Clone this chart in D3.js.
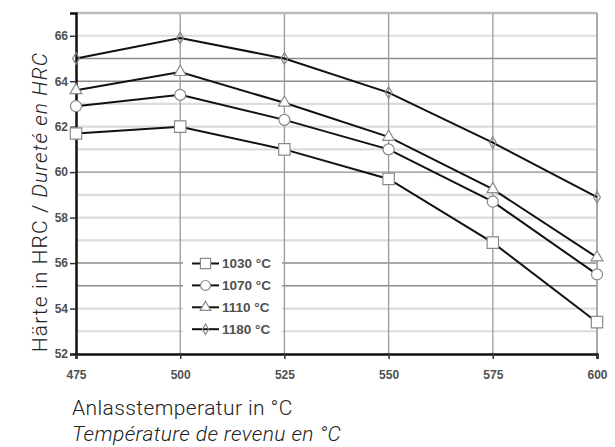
<!DOCTYPE html>
<html>
<head>
<meta charset="utf-8">
<script src="https://cdn.jsdelivr.net/npm/d3@7"></script>
<style>
  body { margin: 0; background: #fff; }
  .tick text { font-family: "Liberation Sans", Arial, sans-serif; font-weight: bold; font-size: 12px; fill: #505050; }
  .title { font-family: Roboto, "Open Sans", sans-serif; font-weight: 300; font-size: 21px; fill: #222; }
  .legend text { font-family: "Liberation Sans", Arial, sans-serif; font-weight: bold; font-size: 13.5px; fill: #505050; }
</style>
</head>
<body>
<div id="chart"></div>
<script>
// Tempering temperature (x) and hardness per hardening temperature
const temps = [475, 500, 525, 550, 575, 600]
const h1030 = [61.7, 62.0, 61.0, 59.7, 56.9, 53.4]
const h1070 = [62.9, 63.4, 62.3, 61.0, 58.7, 55.5]
const h1110 = [63.6, 64.4, 63.05, 61.55, 59.25, 56.25]
const h1180 = [65.0, 65.9, 65.0, 63.5, 61.3, 58.9]
const seriesNames = ['1030 °C', '1070 °C', '1110 °C', '1180 °C']
const yTicks = [52, 54, 56, 58, 60, 62, 64, 66]
const yGrid = [53, 54, 55, 56, 57, 58, 59, 60, 61, 62, 63, 64, 65, 66]
const yGridDark = [55, 56, 60, 64, 65]

const width = 615, height = 447
const margin = { top: 13, right: 18, bottom: 93, left: 76 }
const innerW = width - margin.left - margin.right,
      innerH = height - margin.top - margin.bottom

const svg = d3.select('#chart').append('svg')
    .attr('width', width)
    .attr('height', height)

const g = svg.append('g')
    .attr('transform', 'translate(' + margin.left + ',' + margin.top + ')')

const x = d3.scaleLinear().domain([475, 600]).range([0, innerW])
const y = d3.scaleLinear().domain([52, 67]).range([innerH, 0])

// Horizontal grid
g.selectAll('.hgrid').data(yGrid).enter().append('line')
  .attr('class', 'hgrid')
  .attr('x1', 0).attr('x2', innerW)
  .attr('y1', d => y(d)).attr('y2', d => y(d))
  .attr('stroke', d => yGridDark.includes(d) ? '#8c8c8c' : '#dcdcdc')
  .attr('stroke-width', d => yGridDark.includes(d) ? 1.4 : 2.2)

// Vertical grid
g.selectAll('.vgrid').data(temps.slice(1, -1)).enter().append('line')
  .attr('class', 'vgrid')
  .attr('x1', d => x(d)).attr('x2', d => x(d))
  .attr('y1', 0).attr('y2', innerH)
  .attr('stroke', '#9a9a9a')
  .attr('stroke-width', 1.3)

// Plot frame (top and right)
g.append('line')
  .attr('x1', 0).attr('x2', innerW)
  .attr('y1', y(67)).attr('y2', y(67))
  .attr('stroke', '#bbb').attr('stroke-width', 2.5)
g.append('line')
  .attr('x1', x(600)).attr('x2', x(600))
  .attr('y1', 0).attr('y2', innerH)
  .attr('stroke', '#aaa').attr('stroke-width', 2)

// Axes
const yAxis = d3.axisLeft(y).tickValues(yTicks).tickSize(6).tickPadding(2)
const xAxis = d3.axisBottom(x).tickValues(temps).tickSize(5).tickPadding(11)

g.append('g').attr('class', 'axis axis-y').call(yAxis)
g.append('g').attr('class', 'axis axis-x')
  .attr('transform', 'translate(0,' + innerH + ')')
  .call(xAxis)

g.selectAll('.axis .domain').attr('stroke', '#111').attr('stroke-width', 2.5)
g.selectAll('.axis .tick line').attr('stroke', '#333').attr('stroke-width', 1.5)

// Series
const series = [h1030, h1070, h1110, h1180].map((vals, i) => ({
  name: seriesNames[i],
  values: vals.map((v, j) => ({ t: temps[j], h: v }))
}))
const shapes = [d3.symbolSquare, d3.symbolCircle, d3.symbolTriangle, d3.symbolDiamond]
const sizes = [130, 95, 60, 40]

const line = d3.line().x(d => x(d.t)).y(d => y(d.h))

g.selectAll('.series-line').data(series).enter().append('path')
  .attr('class', 'series-line')
  .attr('d', d => line(d.values))
  .attr('fill', 'none')
  .attr('stroke', '#111')
  .attr('stroke-width', 2)

series.forEach((s, i) => {
  g.selectAll('.mk' + i).data(s.values).enter().append('path')
    .attr('class', 'mk' + i)
    .attr('transform', d => 'translate(' + x(d.t) + ',' + y(d.h) + ')')
    .attr('d', d3.symbol().type(shapes[i]).size(sizes[i]))
    .attr('fill', i === 3 ? 'none' : '#fff')
    .attr('stroke', '#8a8a8a')
    .attr('stroke-width', 1.2)
})

// Legend
const legend = svg.append('g').attr('class', 'legend')
legend.append('rect')
  .attr('x', 183).attr('y', 250)
  .attr('width', 99).attr('height', 92)
  .attr('fill', '#fff')

series.forEach((s, i) => {
  let ly = 263.5 + i * 21.9
  let row = legend.append('g').attr('transform', 'translate(192,' + ly + ')')
  row.append('line')
    .attr('x1', 0).attr('x2', 27)
    .attr('stroke', '#111').attr('stroke-width', 2)
  row.append('path')
    .attr('transform', 'translate(13.5,0)')
    .attr('d', d3.symbol().type(shapes[i]).size(sizes[i] * 0.8))
    .attr('fill', i === 3 ? 'none' : '#fff')
    .attr('stroke', '#8a8a8a')
    .attr('stroke-width', 1.2)
  row.append('text')
    .attr('x', 30).attr('dy', '0.36em')
    .text(s.name)
})

// Titles
const yTitle = svg.append('text')
  .attr('class', 'title')
  .attr('transform', 'translate(47,' + 202 + ') rotate(-90)')
  .attr('text-anchor', 'middle')
  .style('letter-spacing', '1.1px')
yTitle.append('tspan').text('Härte in HRC / ')
yTitle.append('tspan').style('font-style', 'italic').text('Dureté en HRC')

svg.append('text')
  .attr('class', 'title')
  .attr('x', 72).attr('y', 415)
  .style('letter-spacing', '0.4px')
  .text('Anlasstemperatur in °C')
svg.append('text')
  .attr('class', 'title')
  .attr('x', 72).attr('y', 441)
  .style('font-style', 'italic')
  .style('letter-spacing', '0.4px')
  .text('Température de revenu en °C')
</script>
</body>
</html>
